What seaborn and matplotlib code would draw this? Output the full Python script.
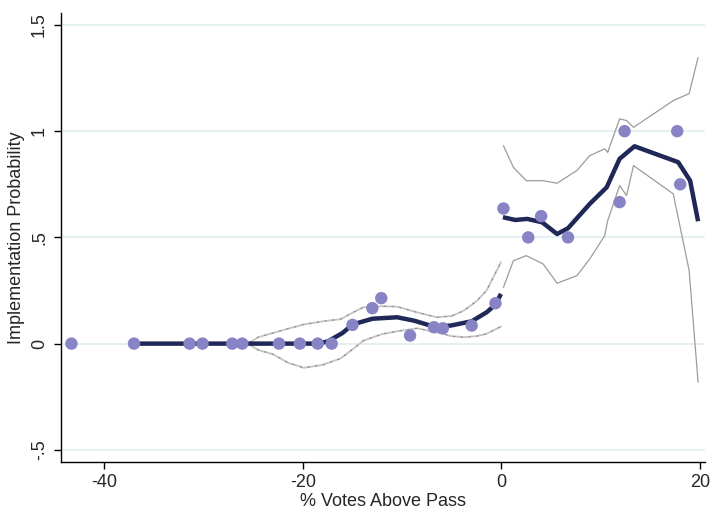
import matplotlib
matplotlib.use("Agg")
import matplotlib.pyplot as plt
import seaborn as sns
import pandas as pd

# Observed implementation shares by vote margin
vote_margin = [-43.3, -37.0, -31.4, -30.1, -27.1, -26.1, -22.4, -20.3, -18.5, -17.1,
               -15.0, -13.0, -12.1, -9.2, -6.8, -5.9, -3.0, -0.6,
               0.2, 2.7, 4.0, 6.7, 11.9, 12.4, 17.7, 18.0]
impl_prob = [0, 0, 0, 0, 0, 0, 0, 0, 0, 0,
             0.088, 0.167, 0.214, 0.038, 0.077, 0.072, 0.085, 0.19,
             0.636, 0.5, 0.6, 0.5, 0.666, 1.0, 1.0, 0.75]

# Local fit below the threshold, with its confidence band
fit_left_x = [-37.0, -30.0, -25.0, -20.0, -18.5, -17.5, -16.0, -15.0, -13.0, -10.5,
              -8.8, -6.8, -5.1, -3.0, -1.5, -0.6, -0.05]
fit_left_y = [0.0, 0.0, 0.0, 0.0, 0.0, 0.01, 0.05, 0.09, 0.117, 0.124,
              0.108, 0.08, 0.085, 0.105, 0.147, 0.184, 0.234]
ci_left_x = [-37.0, -30.0, -25.5, -24.5, -23.0, -21.5, -19.9, -18.0, -16.2, -14.8, -13.9,
             -12.0, -10.5, -8.5, -6.5, -5.0, -3.8, -2.5, -1.5, -0.05]
ci_left_hi = [0.0, 0.0, 0.0, 0.03, 0.05, 0.07, 0.09, 0.105, 0.115, 0.15, 0.171,
              0.176, 0.174, 0.147, 0.124, 0.13, 0.155, 0.2, 0.25, 0.383]
ci_left_lo = [0.0, 0.0, 0.0, -0.03, -0.05, -0.09, -0.114, -0.1, -0.07, -0.02, 0.014,
              0.045, 0.058, 0.072, 0.053, 0.035, 0.03, 0.035, 0.046, 0.08]

# Local fit above the threshold, with its confidence band
fit_right_x = [0.15, 1.4, 2.6, 4.1, 5.6, 6.7, 8.9, 10.6, 11.9, 13.4, 17.8, 19.0, 19.8]
fit_right_y = [0.595, 0.582, 0.587, 0.571, 0.516, 0.543, 0.658, 0.736, 0.87, 0.929,
               0.854, 0.767, 0.576]
ci_right_x = [0.2, 1.2, 2.5, 4.2, 5.6, 7.6, 8.9, 10.4, 10.7, 11.9, 12.6, 13.3, 17.3, 18.9, 19.8]
ci_right_hi = [0.932, 0.83, 0.767, 0.767, 0.755, 0.815, 0.885, 0.917, 0.90, 1.058, 1.05,
               1.018, 1.144, 1.177, 1.347]
ci_right_lo = [0.265, 0.39, 0.414, 0.375, 0.284, 0.32, 0.399, 0.508, 0.579, 0.744, 0.697,
               0.838, 0.705, 0.344, -0.182]

x_ticks = [-40, -20, 0, 20]
y_ticks = [-0.5, 0, 0.5, 1, 1.5]
y_tick_labels = ["-.5", "0", ".5", "1", "1.5"]

sns.set_style("white")
plt.rcParams["font.family"] = ["Liberation Sans", "DejaVu Sans"]

fig = plt.figure(figsize=(7.11, 5.09), dpi=100)
ax = fig.add_axes([0.0851, 0.0929, 0.9065, 0.881])

for yv in y_ticks:
    ax.axhline(yv, color="#dcecef", lw=1.1, zorder=0)

left_band = pd.DataFrame({"x": ci_left_x, "hi": ci_left_hi, "lo": ci_left_lo})
right_band = pd.DataFrame({"x": ci_right_x, "hi": ci_right_hi, "lo": ci_right_lo})
for col in ["hi", "lo"]:
    sns.lineplot(data=left_band, x="x", y=col, ax=ax, color="#c4c4c4", lw=1.3,
                 sort=False, estimator=None, zorder=2)
    sns.lineplot(data=left_band, x="x", y=col, ax=ax, color="#8c8c8c", lw=0.8,
                 sort=False, estimator=None, zorder=2,
                 linestyle=(0, (2, 5)))
    sns.lineplot(data=right_band, x="x", y=col, ax=ax, color="#9c9c9c", lw=0.9,
                 sort=False, estimator=None, zorder=2)

navy = "#1f2857"
sns.lineplot(x=fit_left_x, y=fit_left_y, ax=ax, color=navy, lw=3.2,
             sort=False, estimator=None, zorder=3, solid_capstyle="butt")
sns.lineplot(x=fit_right_x, y=fit_right_y, ax=ax, color=navy, lw=3.2,
             sort=False, estimator=None, zorder=3, solid_capstyle="butt")

sns.scatterplot(x=vote_margin, y=impl_prob, ax=ax, color="#8783c5", s=80,
                edgecolor="none", zorder=4)

ax.set_xlim(-44.4, 20.5)
ax.set_ylim(-0.556, 1.555)
ax.set_xticks(x_ticks)
ax.set_xticklabels([str(v) for v in x_ticks])
ax.set_yticks(y_ticks)
ax.set_yticklabels(y_tick_labels, rotation=90, va="center")
ax.tick_params(axis="both", direction="out", length=5, width=1, color="black",
               labelsize=13, pad=4, left=True, bottom=True)

for side in ["top", "right"]:
    ax.spines[side].set_visible(False)
for side in ["left", "bottom"]:
    ax.spines[side].set_color("black")
    ax.spines[side].set_linewidth(1)

ax.set_xlabel("% Votes Above Pass", fontsize=13, labelpad=1)
ax.set_ylabel("Implementation Probability", fontsize=13, labelpad=4)

fig.savefig("out.png", dpi=100)
